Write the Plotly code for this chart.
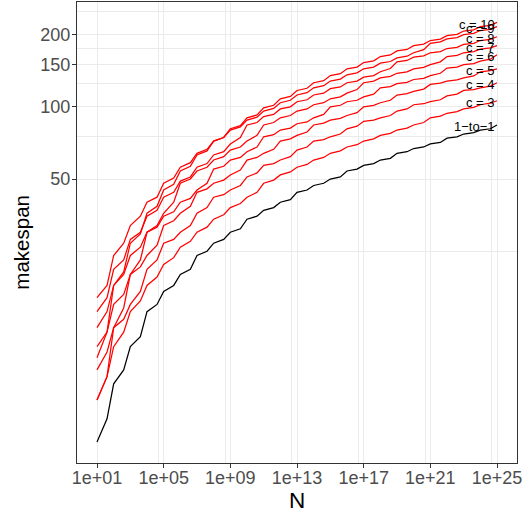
import math
import plotly.graph_objects as go

# x values (N)
N = [1e1, 4e1, 1e2, 4e2, 1e3, 4e3, 1e4, 4e4, 1e5, 4e5, 1e6, 4e6, 1e7, 4e7, 1e8, 4e8,
     1e9, 4e9, 1e10, 4e10, 1e11, 4e11, 1e12, 4e12, 1e13, 4e13, 1e14, 4e14, 1e15, 4e15,
     1e16, 4e16, 1e17, 4e17, 1e18, 4e18, 1e19, 4e19, 1e20, 4e20, 1e21, 4e21, 1e22, 4e22,
     1e23, 4e23, 1e24, 4e24, 1e25]

one_to_one = [4, 5, 7, 8, 10, 11, 14, 15, 17, 18, 20, 21, 24, 25, 27, 28, 30, 31, 34, 35,
              37, 38, 40, 41, 44, 45, 47, 48, 50, 51, 54, 55, 57, 58, 60, 61, 64, 65, 67, 68,
              70, 71, 74, 75, 77, 78, 80, 81, 84]
c3 = [6, 7.5, 10, 11.5, 14, 15.5, 18, 19.5, 22, 23.5, 26, 27.5, 30, 31.5, 34, 35.5, 38, 39.5,
      42, 44, 48, 49.5, 52, 53.5, 56, 57.5, 60, 61.5, 64, 65.5, 68, 69.5, 72, 73.5, 76, 77.5,
      80, 81.5, 84, 86, 90, 91.5, 94, 95.5, 98, 99.5, 102, 103.5, 106]
c4 = [6, 7.5, 12, 13, 15, 17, 21, 23, 27, 28, 30, 32, 36, 38, 42, 43, 45, 47, 51, 53, 57, 58,
      60, 62, 66, 68, 72, 73, 75, 77, 81, 83, 87, 88, 90, 92, 96, 98, 102, 103, 105, 107, 111,
      113, 117, 118, 120, 122, 126]
c5 = [8, 9.5, 12, 14.5, 20, 21.5, 24, 26.5, 32, 33.5, 36, 38.5, 44, 45.5, 48, 49.5, 52, 54.5,
      60, 61.5, 64, 66.5, 72, 73.5, 76, 78.5, 84, 85.5, 88, 89.5, 92, 94.5, 100, 101.5, 104,
      106.5, 112, 113.5, 116, 118.5, 124, 125.5, 128, 129.5, 132, 134.5, 140, 141.5, 144]
c6 = [10, 11.5, 15, 16.5, 20, 23, 30, 31.5, 35, 36.5, 40, 41.5, 45, 48, 55, 56.5, 60, 61.5, 65,
      68, 75, 76.5, 80, 81.5, 85, 86.5, 90, 93, 100, 101.5, 105, 106.5, 110, 113, 120, 121.5,
      125, 126.5, 130, 131.5, 135, 138, 145, 146.5, 150, 151.5, 155, 158, 165]
c7 = [12, 14, 18, 20, 24, 26, 30, 32, 36, 40, 48, 50, 54, 56, 60, 62, 66, 68, 72, 76, 84, 86,
      90, 92, 96, 98, 102, 104, 108, 110, 114, 118, 126, 128, 132, 134, 138, 140, 144, 146,
      150, 154, 162, 164, 168, 170, 174, 176, 180]
c8 = [14, 16, 21, 23, 28, 30, 35, 37, 42, 44, 49, 51, 56, 58, 63, 65, 70, 74.5, 84, 86, 91, 93,
      98, 100, 105, 107, 112, 114, 119, 121, 126, 128, 133, 135, 140, 144.5, 154, 156, 161,
      163, 168, 170, 175, 177, 182, 184, 189, 191, 196]
c9 = [16, 18, 24, 27, 32, 35, 40, 42, 48, 50.5, 56, 58.5, 64, 66.5, 72, 74.5, 80, 82.5, 88,
      90.5, 96, 98.5, 104, 106.5, 112, 114.5, 120, 122.5, 128, 130.5, 136, 138.5, 144, 146.5,
      152, 154.5, 160, 162.5, 168, 173, 184, 186.5, 192, 194.5, 200, 202.5, 208, 210.5, 216]
c10 = [9, 11.5, 18, 20.5, 27, 29.5, 36, 38.5, 45, 47.5, 54, 56.5, 63, 65.5, 72, 74.5, 81, 83.5,
       90, 92.5, 99, 101.5, 108, 110.5, 117, 119.5, 126, 128.5, 135, 137.5, 144, 146.5, 153,
       155.5, 162, 164.5, 171, 173.5, 180, 182.5, 189, 191.5, 198, 200.5, 207, 209.5, 216,
       218.5, 225]

series = [("1\u2212to\u22121", one_to_one, "black"),
          ("c = 3", c3, "red"), ("c = 4", c4, "red"), ("c = 5", c5, "red"),
          ("c = 6", c6, "red"), ("c = 7", c7, "red"), ("c = 8", c8, "red"),
          ("c = 9", c9, "red"), ("c = 10", c10, "red")]

x_ticks = [1e1, 1e5, 1e9, 1e13, 1e17, 1e21, 1e25]
x_labels = ["1e+01", "1e+05", "1e+09", "1e+13", "1e+17", "1e+21", "1e+25"]
x_minor = [5e4, 5e8, 5e12, 5e16, 5e20, 5e24]
y_ticks = [50, 100, 150, 200]
y_labels = ["50", "100", "150", "200"]
y_minor = [25, 75, 125, 175, 250]

FONT = "Liberation Sans, Arial, sans-serif"

fig = go.Figure()
for name, vals, col in series:
    fig.add_trace(go.Scatter(x=N, y=vals, mode="lines", name=name,
                             line=dict(color=col, width=1.25), showlegend=False,
                             hoverinfo="skip"))

for name, vals, col in series:
    fig.add_annotation(x=math.log10(N[-1]), y=math.log10(vals[-1]), text=name,
                       showarrow=False, xanchor="right", yanchor="middle", yshift=-2,
                       font=dict(size=13, color="black", family=FONT))

fig.add_annotation(xref="paper", yref="paper", x=0.5, y=-0.082, text="N",
                   showarrow=False, xanchor="center", yanchor="middle",
                   font=dict(size=22.5, color="black", family=FONT))
fig.add_annotation(xref="paper", yref="paper", x=-0.125, y=0.478, text="makespan",
                   showarrow=False, textangle=-90, xanchor="center", yanchor="middle",
                   font=dict(size=20.5, color="black", family=FONT))

axis_common = dict(ticks="outside", ticklen=4, tickwidth=1, tickcolor="#333333",
                   showline=True, mirror=True, linecolor="#333333", linewidth=1,
                   showgrid=True, gridcolor="#EBEBEB", gridwidth=1, zeroline=False,
                   automargin=False,
                   tickfont=dict(size=18, color="#4D4D4D", family=FONT))

fig.update_xaxes(type="log", range=[-0.2, 26.2], tickmode="array", tickvals=x_ticks,
                 ticktext=x_labels, ticklabelstandoff=-6,
                 minor=dict(tickmode="array", tickvals=x_minor, showgrid=True,
                            gridcolor="#EBEBEB", gridwidth=0.6, ticks=""),
                 **axis_common)
fig.update_yaxes(type="log", range=[0.515, 2.437], tickmode="array", tickvals=y_ticks,
                 ticktext=y_labels, ticklabelstandoff=-2,
                 minor=dict(tickmode="array", tickvals=y_minor, showgrid=True,
                            gridcolor="#EBEBEB", gridwidth=0.6, ticks=""),
                 **axis_common)

fig.update_layout(width=529, height=512, margin=dict(l=77, r=12, t=2, b=49),
                  plot_bgcolor="white", paper_bgcolor="white",
                  font=dict(family=FONT))

fig.write_html("out.html", config={"displayModeBar": False},
               post_script="document.body.style.margin='0';document.body.style.overflow='hidden';")
